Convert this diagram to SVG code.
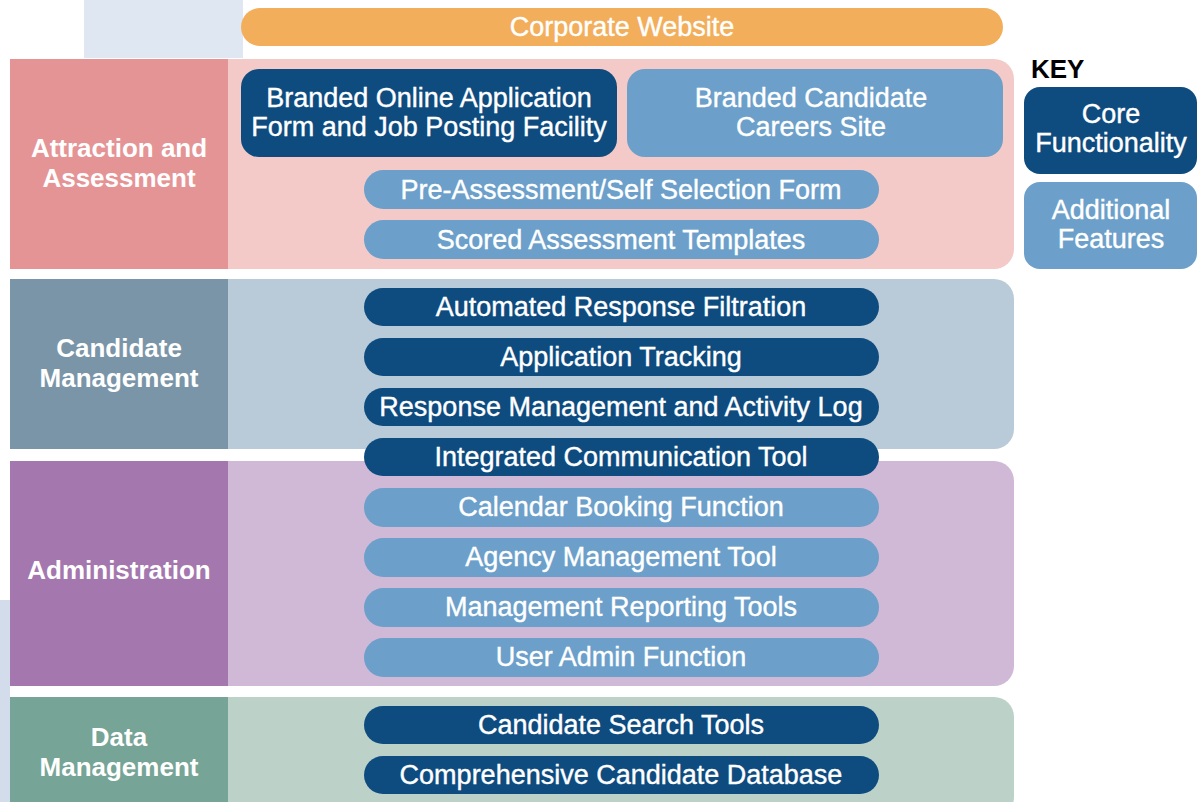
<svg xmlns="http://www.w3.org/2000/svg" width="1202" height="802" viewBox="0 0 1202 802">
<style>
.t{font-family:"Liberation Sans",Arial,sans-serif;fill:#fff;stroke:#fff;stroke-width:0.4;font-size:27px;text-anchor:middle;dominant-baseline:central}
.lbl{font-family:"Liberation Sans",Arial,sans-serif;fill:#fff;font-size:26px;font-weight:bold;text-anchor:middle;dominant-baseline:central}
.core{fill:#0e4b7f}
.add{fill:#6c9fc9}
</style>
<rect width="1202" height="802" fill="#fff"/>
<rect x="84" y="0" width="159" height="58" fill="#dfe8f2"/>
<rect x="0" y="600" width="10" height="202" fill="#d3dcea"/>
<g id="corporate-website">
<rect x="241" y="8" width="762" height="38" rx="19" fill="#f2ae5a"/>
<text class="t" x="622" y="27">Corporate Website</text>
</g>
<g id="band-attraction">
<rect x="10" y="59" width="1004" height="210" rx="20" fill="#f3cac8"/>
<rect x="10" y="59" width="218" height="210" fill="#e59496"/>
<text class="lbl" x="119" y="148">Attraction and</text>
<text class="lbl" x="119" y="178">Assessment</text>
</g>
<g id="band-candidate">
<rect x="10" y="279" width="1004" height="170" rx="20" fill="#b9cbd8"/>
<rect x="10" y="279" width="218" height="170" fill="#7a95a8"/>
<text class="lbl" x="119" y="348">Candidate</text>
<text class="lbl" x="119" y="378">Management</text>
</g>
<g id="band-admin">
<rect x="10" y="461" width="1004" height="225" rx="20" fill="#d0b9d7"/>
<rect x="10" y="461" width="218" height="225" fill="#a477ae"/>
<text class="lbl" x="119" y="570">Administration</text>
</g>
<g id="band-data">
<rect x="10" y="697" width="1004" height="120" rx="20" fill="#bcd2c9"/>
<rect x="10" y="697" width="218" height="110" fill="#76a496"/>
<text class="lbl" x="119" y="737">Data</text>
<text class="lbl" x="119" y="767">Management</text>
</g>
<g id="branded-online">
<rect class="core" x="241" y="69" width="376" height="88" rx="18"/>
<text class="t" x="429" y="98">Branded Online Application</text>
<text class="t" x="429" y="127">Form and Job Posting Facility</text>
</g>
<g id="branded-careers">
<rect class="add" x="627" y="69" width="376" height="88" rx="18"/>
<text class="t" x="811" y="98">Branded Candidate</text>
<text class="t" x="811" y="127">Careers Site</text>
</g>
<g id="pre-assessment"><rect class="add" x="364" y="170" width="515" height="39" rx="19.5"/><text class="t" x="621" y="190">Pre-Assessment/Self Selection Form</text></g>
<g id="scored-assessment"><rect class="add" x="364" y="220" width="515" height="39" rx="19.5"/><text class="t" x="621" y="240">Scored Assessment Templates</text></g>
<g id="auto-filtration"><rect class="core" x="364" y="288" width="515" height="38" rx="19"/><text class="t" x="621" y="307">Automated Response Filtration</text></g>
<g id="app-tracking"><rect class="core" x="364" y="338" width="515" height="38" rx="19"/><text class="t" x="621" y="357">Application Tracking</text></g>
<g id="response-mgmt"><rect class="core" x="364" y="388" width="515" height="38" rx="19"/><text class="t" x="621" y="407">Response Management and Activity Log</text></g>
<g id="integrated-comm"><rect class="core" x="364" y="438" width="515" height="38" rx="19"/><text class="t" x="621" y="457">Integrated Communication Tool</text></g>
<g id="calendar"><rect class="add" x="364" y="488" width="515" height="39" rx="19.5"/><text class="t" x="621" y="507">Calendar Booking Function</text></g>
<g id="agency"><rect class="add" x="364" y="538" width="515" height="39" rx="19.5"/><text class="t" x="621" y="557">Agency Management Tool</text></g>
<g id="reporting"><rect class="add" x="364" y="588" width="515" height="39" rx="19.5"/><text class="t" x="621" y="607">Management Reporting Tools</text></g>
<g id="user-admin"><rect class="add" x="364" y="638" width="515" height="39" rx="19.5"/><text class="t" x="621" y="657">User Admin Function</text></g>
<g id="candidate-search"><rect class="core" x="364" y="706" width="515" height="38" rx="19"/><text class="t" x="621" y="725">Candidate Search Tools</text></g>
<g id="candidate-db"><rect class="core" x="364" y="756" width="515" height="38" rx="19"/><text class="t" x="621" y="775">Comprehensive Candidate Database</text></g>
<g id="key">
<text x="1031" y="69" font-family="Liberation Sans,Arial,sans-serif" font-size="26" font-weight="bold" fill="#000" dominant-baseline="central">KEY</text>
<rect class="core" x="1024" y="87" width="173" height="87" rx="16"/>
<text class="t" x="1111" y="114">Core</text>
<text class="t" x="1111" y="143">Functionality</text>
<rect class="add" x="1024" y="182" width="173" height="87" rx="16"/>
<text class="t" x="1111" y="210">Additional</text>
<text class="t" x="1111" y="239">Features</text>
</g>
<g id="connectors"></g>
</svg>
